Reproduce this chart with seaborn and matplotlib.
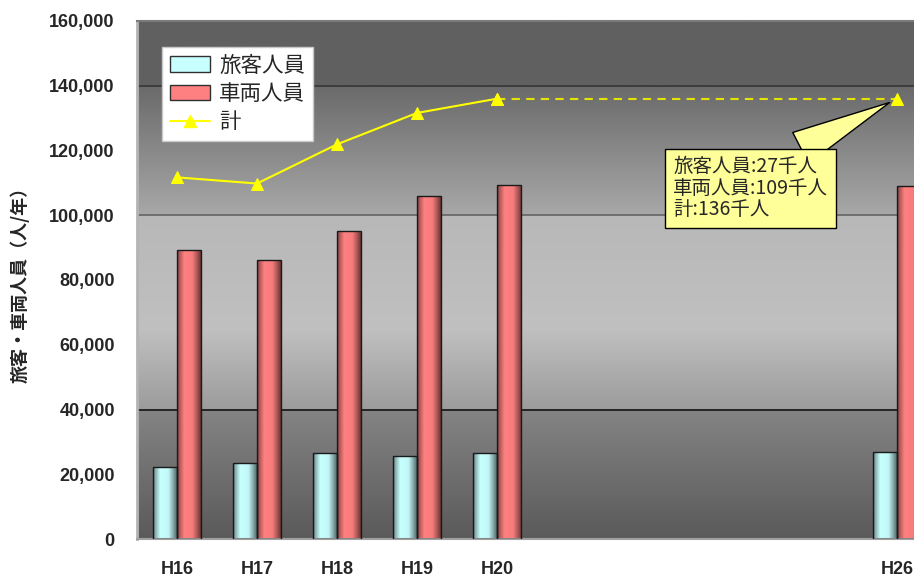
import numpy as np
import pandas as pd
import matplotlib
matplotlib.use("Agg")
import matplotlib.pyplot as plt
import seaborn as sns
from matplotlib.patches import Patch
from matplotlib.lines import Line2D
from matplotlib.font_manager import FontProperties

# ---------------- data ----------------
slots = ["H16", "H17", "H18", "H19", "H20", "s1", "s2", "s3", "s4", "H26"]
tick_labels = ["H16", "H17", "H18", "H19", "H20", "", "", "", "", "H26"]
series_names = ["旅客人員", "車両人員", "計"]
passengers = [22300, 23600, 26700, 25600, 26700, np.nan, np.nan, np.nan, np.nan, 27000]
vehicles = [89400, 86200, 95200, 106000, 109300, np.nan, np.nan, np.nan, np.nan, 109000]
totals = [111700, 109800, 121900, 131600, 136000, np.nan, np.nan, np.nan, np.nan, 136000]
callout_lines = ["旅客人員:27千人", "車両人員:109千人", "計:136千人"]
y_ticks = [0, 20000, 40000, 60000, 80000, 100000, 120000, 140000, 160000]
grid_values = [40000, 100000, 140000]
y_label = "旅客・車両人員（人/年）"

# ---------------- style ----------------
sns.set_theme(style="white")
plt.rcParams["font.family"] = ["Liberation Sans", "Noto Sans CJK JP", "DejaVu Sans"]
cjk = ["Noto Sans CJK JP", "DejaVu Sans"]

CYAN = "#c8ffff"
RED = "#ff8080"
YELLOW = "#ffff00"

W, H = 914, 579
fig = plt.figure(figsize=(W / 100, H / 100), dpi=100, facecolor="white")
ax = fig.add_axes([137 / W, 1 - 539 / H, 800 / W, 518 / H])

# background gradient (value-banded, like the original)
vals = np.linspace(0, 160000, 1000)
prof_x = [0, 39900, 40100, 65000, 99900, 100100, 139900, 140100, 160000]
prof_g = [90, 132, 156, 192, 184, 168, 106, 96, 96]
g = np.interp(vals, prof_x, prof_g) / 255.0
bg = np.dstack([g, g, g]).reshape(-1, 1, 3)
ax.imshow(bg, extent=[0, 1, 0, 1], transform=ax.transAxes, origin="lower",
          aspect="auto", zorder=0, interpolation="bilinear")

grid_colors = {40000: "#1e1e1e", 100000: "#6a6a6a", 140000: "#3a3a3a"}
for gv in grid_values:
    ax.axhline(gv, color=grid_colors[gv], lw=1.3, zorder=1)

# bars
df = pd.DataFrame({
    "slot": slots * 2,
    "series": [series_names[0]] * len(slots) + [series_names[1]] * len(slots),
    "value": passengers + vehicles,
}).dropna()
sns.barplot(data=df, x="slot", y="value", hue="series", order=slots,
            hue_order=series_names[:2], palette=[CYAN, RED], width=0.6, gap=0,
            errorbar=None, saturation=1, edgecolor="#1a1a1a", linewidth=1.0,
            legend=False, ax=ax, zorder=2)

# cylinder-like shading
t = np.linspace(0, 1, 60)
shade = np.interp(t, [0, 0.06, 0.3, 0.65, 0.88, 1], [0.35, 0.62, 1.0, 0.97, 0.62, 0.42])
for p in list(ax.patches):
    h = p.get_height()
    if not np.isfinite(h) or h <= 0:
        continue
    x0, y0, w = p.get_x(), p.get_y(), p.get_width()
    base = np.array(p.get_facecolor()[:3])
    row = np.clip(base[None, :] * shade[:, None], 0, 1).reshape(1, -1, 3)
    im = ax.imshow(row, extent=[x0, x0 + w, y0, y0 + h], aspect="auto",
                   zorder=2.5, interpolation="bilinear")
    im.set_clip_path(p)
    p.set_facecolor("none")
    p.set_zorder(3)

# total line
idx = np.arange(len(slots))
sns.lineplot(x=idx[:5], y=totals[:5], color=YELLOW, lw=1.5, marker="^",
             markersize=9, markeredgecolor=YELLOW, ax=ax, zorder=4)
sns.lineplot(x=[idx[4], idx[9]], y=[totals[4], totals[9]], color="#e4e400",
             lw=1.5, linestyle=(0, (4, 3)), marker="^", markersize=9,
             markeredgecolor=YELLOW, markerfacecolor=YELLOW, ax=ax, zorder=4)

ax.set_xlim(-0.5, 9.5)
ax.set_ylim(0, 160000)

# axes cosmetics
ax.set_xticks(idx)
ax.set_xticklabels(tick_labels, fontweight="bold", fontsize=13)
ax.set_xticks(np.arange(0.5, 9.5, 1), minor=True)
ax.tick_params(axis="x", which="major", length=0, pad=16)
ax.tick_params(axis="x", which="minor", direction="in", length=4, color="#8a8a8a", width=1)
ax.set_yticks(y_ticks)
ax.set_yticklabels([f"{v:,}" for v in y_ticks], fontweight="bold", fontsize=13)
ax.tick_params(axis="y", length=0, pad=16)
ax.set_xlabel("")
ax.set_ylabel(y_label, family=cjk, fontweight="bold", fontsize=13)
ax.yaxis.set_label_coords((30 - 137) / 800, 0.5)

ax.spines["right"].set_visible(False)
ax.spines["top"].set_color("#7a7a7a")
ax.spines["top"].set_linewidth(1.5)
ax.spines["left"].set_color("#b4b4b4")
ax.spines["left"].set_linewidth(2)
ax.spines["bottom"].set_color("#a0a0a0")
ax.spines["bottom"].set_linewidth(1.5)

# legend
handles = [Patch(facecolor=CYAN, edgecolor="#303030"),
           Patch(facecolor=RED, edgecolor="#303030"),
           Line2D([], [], color=YELLOW, lw=1.5, marker="^", markersize=9)]
leg = ax.legend(handles, series_names, loc="upper left",
                bbox_to_anchor=(25 / 800, 1 - 26 / 518),
                prop=FontProperties(family=cjk, size=15.5), frameon=True,
                fancybox=False, edgecolor="#c8c8c8", framealpha=1,
                borderpad=0.35, labelspacing=0.3, handlelength=1.9,
                handleheight=0.7, handletextpad=0.4, borderaxespad=0)
leg.get_frame().set_facecolor("white")
leg.set_zorder(7)

# callout
ax.annotate("\n".join(callout_lines), xy=(idx[9], totals[9]), xytext=(6.2, 118200),
            ha="left", va="top", family=cjk, fontsize=14, linespacing=1.02,
            bbox=dict(boxstyle="square,pad=0.4", fc="#ffff99", ec="black", lw=1),
            arrowprops=dict(arrowstyle="wedge,tail_width=1.8,shrink_factor=0.5",
                            fc="#ffff99", ec="black", lw=1, relpos=(0.72, 1.0),
                            shrinkA=0, shrinkB=6),
            zorder=6)

fig.savefig("out.png", dpi=100, facecolor="white")
